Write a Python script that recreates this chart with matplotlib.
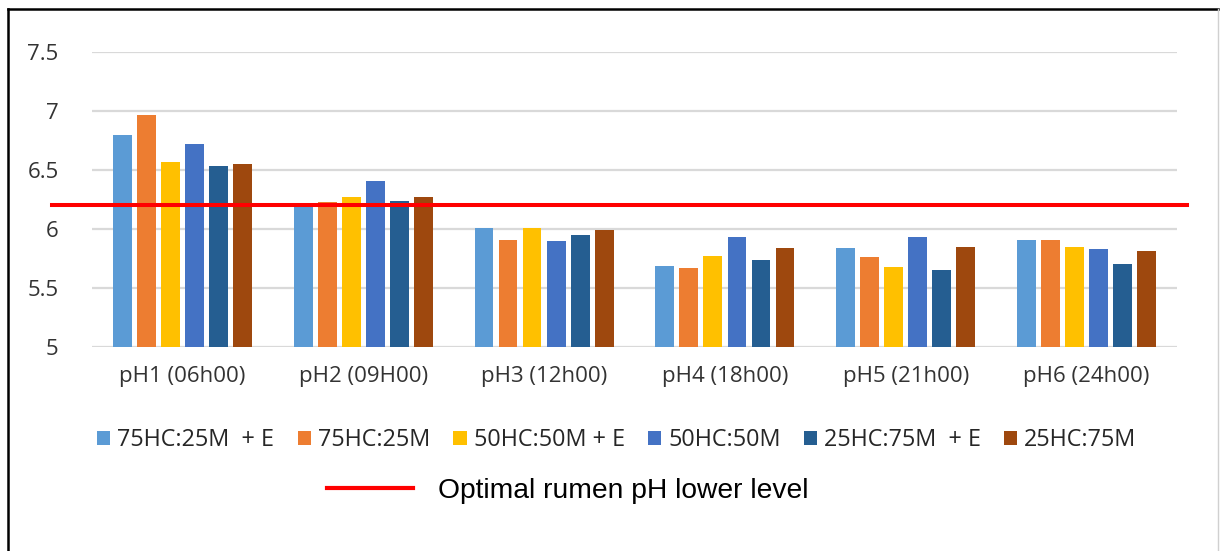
import matplotlib.pyplot as plt
from matplotlib.lines import Line2D
import numpy as np

# categorias (horarios)
horarios = ['pH1 (06h00)', 'pH2 (09H00)', 'pH3 (12h00)', 'pH4 (18h00)', 'pH5 (21h00)', 'pH6 (24h00)']

# series (tratamentos)
trat1 = [6.80, 6.20, 6.01, 5.69, 5.84, 5.91]  # 75HC:25M + E
trat2 = [6.97, 6.23, 5.91, 5.67, 5.76, 5.91]  # 75HC:25M
trat3 = [6.57, 6.27, 6.01, 5.77, 5.68, 5.85]  # 50HC:50M + E
trat4 = [6.72, 6.41, 5.90, 5.93, 5.93, 5.83]  # 50HC:50M
trat5 = [6.53, 6.24, 5.95, 5.74, 5.65, 5.70]  # 25HC:75M + E
trat6 = [6.55, 6.27, 5.99, 5.84, 5.85, 5.81]  # 25HC:75M

nomes = ['75HC:25M  + E', '75HC:25M', '50HC:50M + E', '50HC:50M', '25HC:75M  + E', '25HC:75M']
cores = ['#5B9BD5', '#ED7D31', '#FFC000', '#4472C4', '#255E91', '#9E480E']

# nivel minimo de pH ruminal
ph_otimo = 6.2
ticks_y = [5, 5.5, 6, 6.5, 7, 7.5]
ticks_y_txt = ['5', '5.5', '6', '6.5', '7', '7.5']

plt.rcParams['font.family'] = ['Open Sans', 'DejaVu Sans']

fig = plt.figure(figsize=(12.2, 5.51), dpi=100)
ax = fig.add_axes([92/1220, 204/551, 1085/1220, 295/551])

x = np.arange(len(horarios))
passo = 0.133
larg = 0.104
series = [trat1, trat2, trat3, trat4, trat5, trat6]
barras = []
for i, s in enumerate(series):
    b = ax.bar(x + (i - 2.5) * passo, np.array(s) - 5, bottom=5, width=larg,
               color=cores[i], label=nomes[i], zorder=2)
    barras.append(b)

# linha vermelha (passa um pouco da area do grafico)
ax.axhline(ph_otimo, xmin=-0.037, xmax=1.009, color='#FF0000', lw=2.9,
           clip_on=False, zorder=3)

ax.set_xlim(-0.5, len(horarios) - 0.5)
ax.set_ylim(5, 7.5)
ax.set_yticks(ticks_y)
ax.set_yticklabels(ticks_y_txt)
ax.set_xticks(x)
ax.set_xticklabels(horarios)
ax.tick_params(axis='both', length=0, labelsize=16, colors='#333333')
ax.tick_params(axis='y', pad=24)
ax.tick_params(axis='x', pad=14)
ax.grid(axis='y', color='#D9D9D9', lw=1.6, zorder=0)
ax.set_axisbelow(True)
for sp in ax.spines.values():
    sp.set_visible(False)

# legenda das series
fig.legend(handles=barras, loc='center', bbox_to_anchor=(617/1220, 1 - 440/551),
           ncol=6, frameon=False, fontsize=16.8, handlelength=0.56, handleheight=0.56,
           handletextpad=0.3, columnspacing=1.0, labelcolor='#262626')

# legenda da linha
linha = Line2D([], [], color='#FF0000', lw=3)
fig.legend(handles=[linha], labels=['Optimal rumen pH lower level'], loc='center',
           bbox_to_anchor=(568/1220, 1 - 491/551), frameon=False,
           prop={'family': 'Liberation Sans', 'size': 20.3}, handlelength=3.05,
           handletextpad=0.88, labelcolor='#000000')

# moldura
fig.add_artist(Line2D([8/1220, 8/1220], [0, 1 - 9/551], color='black', lw=1.8))
fig.add_artist(Line2D([8/1220, 1218/1220], [1 - 9/551, 1 - 9/551], color='black', lw=1.8))
fig.add_artist(Line2D([1218/1220, 1218/1220], [0, 1 - 9/551], color='#D0D0D0', lw=1))

plt.savefig('out.png', dpi=100)
